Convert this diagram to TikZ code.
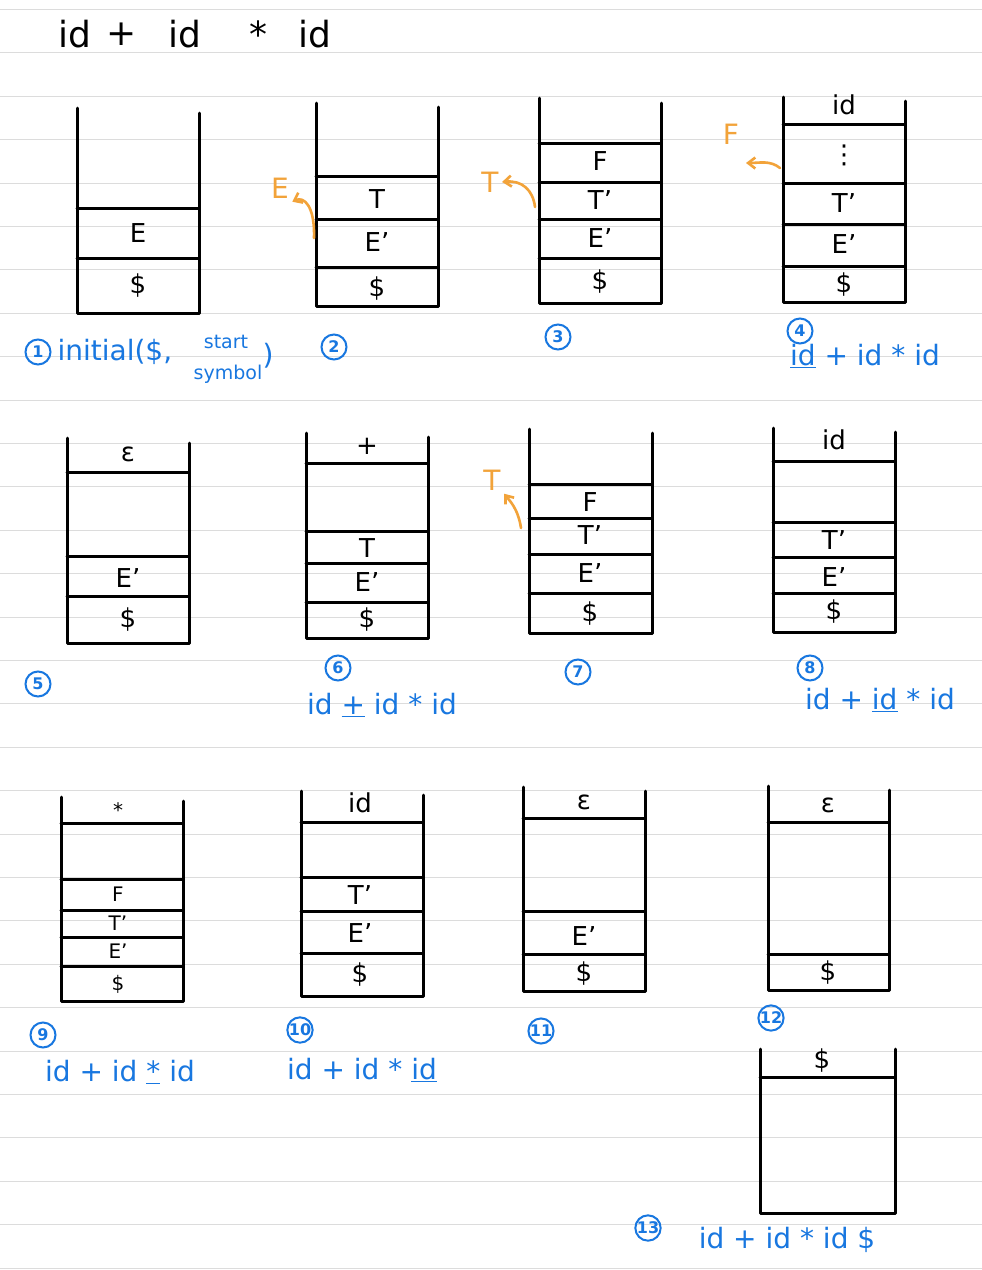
\documentclass[tikz,border=0pt]{standalone}
\usepackage{fontspec}
\setmainfont{DejaVu Sans}
\usetikzlibrary{arrows.meta}
\definecolor{penblue}{HTML}{1877E0}
\definecolor{penorange}{HTML}{F2A33A}
\definecolor{ruling}{HTML}{DCDCDC}

\begin{document}
\begin{tikzpicture}[x=1pt,y=-1pt,
  wall/.style={line width=3pt,line cap=round,line join=round},
  cell/.style={font=\fontsize{26}{28}\selectfont},
  smallcell/.style={font=\fontsize{20}{22}\selectfont},
  title/.style={font=\fontsize{36}{38}\selectfont},
  stepno/.style={circle,draw=penblue,line width=2pt,text=penblue,inner sep=0pt,minimum size=25pt,font=\fontsize{16}{17}\selectfont\bfseries},
  note/.style={text=penblue,font=\fontsize{28}{30}\selectfont},
  smallnote/.style={text=penblue,font=\fontsize{19}{20}\selectfont},
  hint/.style={text=penorange,font=\fontsize{28}{30}\selectfont},
  hook/.style={draw=penorange,line width=2.6pt,line cap=round,-{Straight Barb[angle=75:9pt]}}]

\useasboundingbox (0,0) rectangle (982,1270);
\fill[white] (0,0) rectangle (982,1270);
% ruled paper
\foreach \k in {0,...,29} \draw[ruling,line width=1pt] (0,9.5+43.4*\k) -- (982,9.5+43.4*\k);

% input string
\foreach \x/\v [count=\i] in {75/id,122/+,185/id,258/*,315/id} \node[title] (in\i) at (\x,34) {\v};

% step 1
\draw[wall] (77,108) -- (77,313) -- (199,313) -- (199,113);
\foreach \y in {208,258} \draw[wall] (77,\y) -- (199,\y);
\foreach \y/\v [count=\i] in {233/E,286/\$} \node[cell] (s1c\i) at (138,\y) {\v};
\node[stepno] (n1) at (38,352) {1};
\node[note,anchor=west] (t1) at (54,352) {initial(\$,};
\node[smallnote] (t1a) at (226,342) {start};
\node[smallnote] (t1b) at (228,374) {symbol};
\node[note] (t1c) at (268,356) {)};

% step 2
\draw[wall] (316,103) -- (316,306) -- (438,306) -- (438,107);
\foreach \y in {176,219,267} \draw[wall] (316,\y) -- (438,\y);
\foreach \y/\v [count=\i] in {199/T,242/E',289/\$} \node[cell] (s2c\i) at (377,\y) {\v};
\node[stepno] (n2) at (334,347) {2};
\node[hint] (hE) at (280,188) {E};
\coordinate (w2) at (314,238);
\draw[hook] (w2) .. controls (315,206) and (304,196) .. (hE.south east);

% step 3
\draw[wall] (539,98) -- (539,303) -- (661,303) -- (661,103);
\foreach \y in {143,182,219,258} \draw[wall] (539,\y) -- (661,\y);
\foreach \y/\v [count=\i] in {161/F,200/T',238/E',282/\$} \node[cell] (s3c\i) at (600,\y) {\v};
\node[stepno] (n3) at (558,337) {3};
\node[hint] (hT) at (490,182) {T};
\coordinate (w3) at (535,207);
\draw[hook] (w3) .. controls (533,190) and (522,180) .. (hT.east);

% step 4
\draw[wall] (783,97) -- (783,302) -- (905,302) -- (905,101);
\foreach \y in {124,183,224,266} \draw[wall] (783,\y) -- (905,\y);
\foreach \y/\v [count=\i] in {105/id,155/⋮,203/T',244/E',285/\$} \node[cell] (s4c\i) at (844,\y) {\v};
\node[stepno] (n4) at (800,331) {4};
\node[note] (t4) at (865,356) {\underline{id} + id * id};
\node[hint] (hF) at (731,134) {F};
\coordinate (w4) at (780,168);
\coordinate (f4) at (746,163);
\draw[hook] (w4) .. controls (770,160) and (760,163) .. (f4);

% step 5
\draw[wall] (67,438) -- (67,643) -- (189,643) -- (189,443);
\foreach \y in {472,556,596} \draw[wall] (67,\y) -- (189,\y);
\foreach \y/\v [count=\i] in {454/ε,578/E',620/\$} \node[cell] (s5c\i) at (128,\y) {\v};
\node[stepno] (n5) at (38,684) {5};

% step 6
\draw[wall] (306,433) -- (306,638) -- (428,638) -- (428,437);
\foreach \y in {463,531,563,602} \draw[wall] (306,\y) -- (428,\y);
\foreach \y/\v [count=\i] in {446/+,548/T,582/E',620/\$} \node[cell] (s6c\i) at (367,\y) {\v};
\node[stepno] (n6) at (338,668) {6};
\node[note] (t6) at (382,705) {id \underline{+} id * id};

% step 7
\draw[wall] (529,429) -- (529,633) -- (652,633) -- (652,433);
\foreach \y in {484,518,554,593} \draw[wall] (529,\y) -- (652,\y);
\foreach \y/\v [count=\i] in {502/F,535/T',573/E',614/\$} \node[cell] (s7c\i) at (590,\y) {\v};
\node[stepno] (n7) at (578,672) {7};
\node[hint] (hT7) at (492,480) {T};
\coordinate (w7) at (521,528);
\draw[hook] (w7) .. controls (518,508) and (509,500) .. (hT7.south east);

% step 8
\draw[wall] (773,428) -- (773,632) -- (895,632) -- (895,432);
\foreach \y in {461,522,557,593} \draw[wall] (773,\y) -- (895,\y);
\foreach \y/\v [count=\i] in {440/id,540/T',577/E',612/\$} \node[cell] (s8c\i) at (834,\y) {\v};
\node[stepno] (n8) at (810,668) {8};
\node[note] (t8) at (880,700) {id + \underline{id} * id};

% step 9
\draw[wall] (61,797) -- (61,1001) -- (183,1001) -- (183,801);
\foreach \y in {823,879,910,937,966} \draw[wall] (61,\y) -- (183,\y);
\foreach \y/\v [count=\i] in {810/*,894/F,923/T',951/E',984/\$} \node[smallcell] (s9c\i) at (118,\y) {\v};
\node[stepno] (n9) at (43,1035) {9};
\node[note] (t9) at (120,1072) {id + id \underline{*} id};

% step 10
\draw[wall] (301,791) -- (301,996) -- (423,996) -- (423,795);
\foreach \y in {822,877,911,953} \draw[wall] (301,\y) -- (423,\y);
\foreach \y/\v [count=\i] in {803/id,895/T',933/E',975/\$} \node[cell] (s10c\i) at (360,\y) {\v};
\node[stepno] (n10) at (300,1030) {10};
\node[note] (t10) at (362,1070) {id + id * \underline{id}};

% step 11
\draw[wall] (523,787) -- (523,991) -- (645,991) -- (645,791);
\foreach \y in {818,911,954} \draw[wall] (523,\y) -- (645,\y);
\foreach \y/\v [count=\i] in {802/ε,936/E',974/\$} \node[cell] (s11c\i) at (584,\y) {\v};
\node[stepno] (n11) at (541,1031) {11};

% step 12
\draw[wall] (768,786) -- (768,990) -- (889,990) -- (889,790);
\foreach \y in {822,954} \draw[wall] (768,\y) -- (889,\y);
\foreach \y/\v [count=\i] in {805/ε,973/\$} \node[cell] (s12c\i) at (828,\y) {\v};
\node[stepno] (n12) at (771,1018) {12};

% step 13
\draw[wall] (760,1049) -- (760,1213) -- (895,1213) -- (895,1049);
\draw[wall] (760,1077) -- (895,1077);
\node[cell] (s13c1) at (822,1061) {\$};
\node[stepno] (n13) at (648,1228) {13};
\node[note] (t13) at (787,1240) {id + id * id \$};
\end{tikzpicture}
\end{document}
